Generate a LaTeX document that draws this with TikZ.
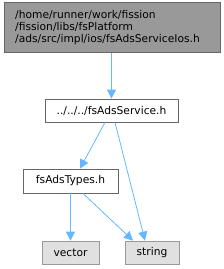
\documentclass[tikz,border=0pt]{standalone}
\usepackage{fontspec}
\setmainfont{DejaVu Sans}
\usetikzlibrary{arrows.meta}
\definecolor{edgeblue}{HTML}{63B8FF}
\definecolor{topfill}{HTML}{999999}
\definecolor{topdraw}{HTML}{666666}
\definecolor{extfill}{HTML}{E0E0E0}
\definecolor{extdraw}{HTML}{999999}
\begin{document}
\begin{tikzpicture}[x=1pt,y=-1pt,
  filebox/.style={draw=topdraw,fill=white,line width=0.8pt,inner sep=0pt,font=\fontsize{10.7}{12}\selectfont},
  extbox/.style={draw=extdraw,fill=extfill,line width=0.8pt,inner sep=0pt,font=\fontsize{10.7}{12}\selectfont},
  dep/.style={draw=edgeblue,line width=0.8pt,-{Triangle[length=9pt,width=9pt]}}]
\useasboundingbox (0,0) rectangle (224,269);
\node[draw=topdraw,fill=topfill,line width=0.8pt,minimum width=216pt,minimum height=50pt,inner sep=0pt,anchor=north west] (top) at (4,2) {};
\node[anchor=west,align=left,font=\fontsize{10.7}{12}\selectfont,inner sep=0pt] (toptext) at (15,28) {/home/runner/work/fission\\/fission/libs/fsPlatform\\/ads/src/impl/ios/fsAdsServiceIos.h};
\node[filebox,minimum width=133pt,minimum height=23pt] (svc) at (111.5,110.5) {../../../fsAdsService.h};
\node[filebox,minimum width=95pt,minimum height=24pt] (types) at (70.5,181) {fsAdsTypes.h};
\node[extbox,minimum width=57pt,minimum height=23pt] (vec) at (70.5,252.5) {vector};
\node[extbox,minimum width=54pt,minimum height=23pt] (str) at (152,252.5) {string};
\draw[dep] (top.south -| svc.north) -- (svc.north);
\draw[dep] ([xshift=-6.5pt]svc.south) -- ([xshift=9.5pt]types.north);
\draw[dep] ([xshift=3.5pt]svc.south) -- ([xshift=-7pt]str.north);
\draw[dep] (types.south) -- (vec.north);
\draw[dep] ([xshift=12.5pt]types.south) -- ([xshift=-19pt]str.north);
\end{tikzpicture}
\end{document}
